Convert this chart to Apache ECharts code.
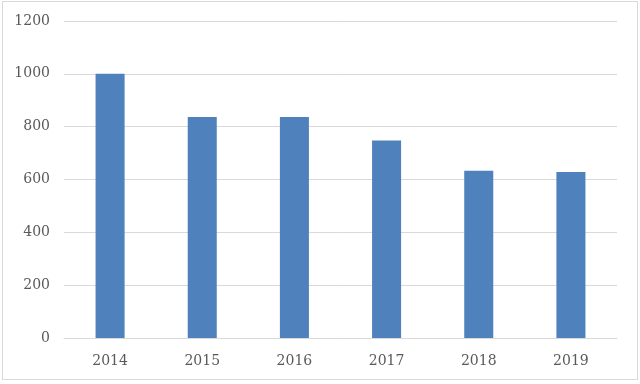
<!DOCTYPE html>
<html>
<head>
<meta charset="utf-8">
<script src="https://cdn.jsdelivr.net/npm/echarts@6/dist/echarts.min.js"></script>
<style>
html,body{margin:0;padding:0;background:#fff;}
#frame{position:absolute;left:2px;top:1px;width:634px;height:377px;border:1px solid #d9d9d9;}
#chart{position:absolute;left:0;top:0;width:640px;height:384px;}
</style>
</head>
<body>
<div id="frame"></div>
<div id="chart"></div>
<script>
const categories = ['2014','2015','2016','2017','2018','2019'];
const values = [1000, 837, 837, 748, 633, 628];
const yTicks = [0, 200, 400, 600, 800, 1000, 1200];

const chart = echarts.init(document.getElementById('chart'), null, {renderer:'canvas'});
chart.setOption({
  animation:false,
  grid:{left:64, right:23, top:21, bottom:46},
  xAxis:{
    type:'category',
    data:categories,
    axisLine:{show:true, lineStyle:{color:'#d9d9d9', width:1}},
    axisTick:{show:false},
    axisLabel:{color:'#595959', fontFamily:'DejaVu Serif', fontSize:14, margin:16}
  },
  yAxis:{
    type:'value',
    min:yTicks[0], max:yTicks[yTicks.length-1], interval:200,
    axisLine:{show:false},
    axisTick:{show:false},
    splitLine:{lineStyle:{color:'#d9d9d9', width:1}},
    axisLabel:{color:'#595959', fontFamily:'DejaVu Serif', fontSize:14, margin:14,
      formatter:function(v){return String(v);}}
  },
  series:[{
    type:'bar',
    data:values,
    barWidth:'31.5%',
    itemStyle:{color:'#4f81bd'}
  }]
});
</script>
</body>
</html>
